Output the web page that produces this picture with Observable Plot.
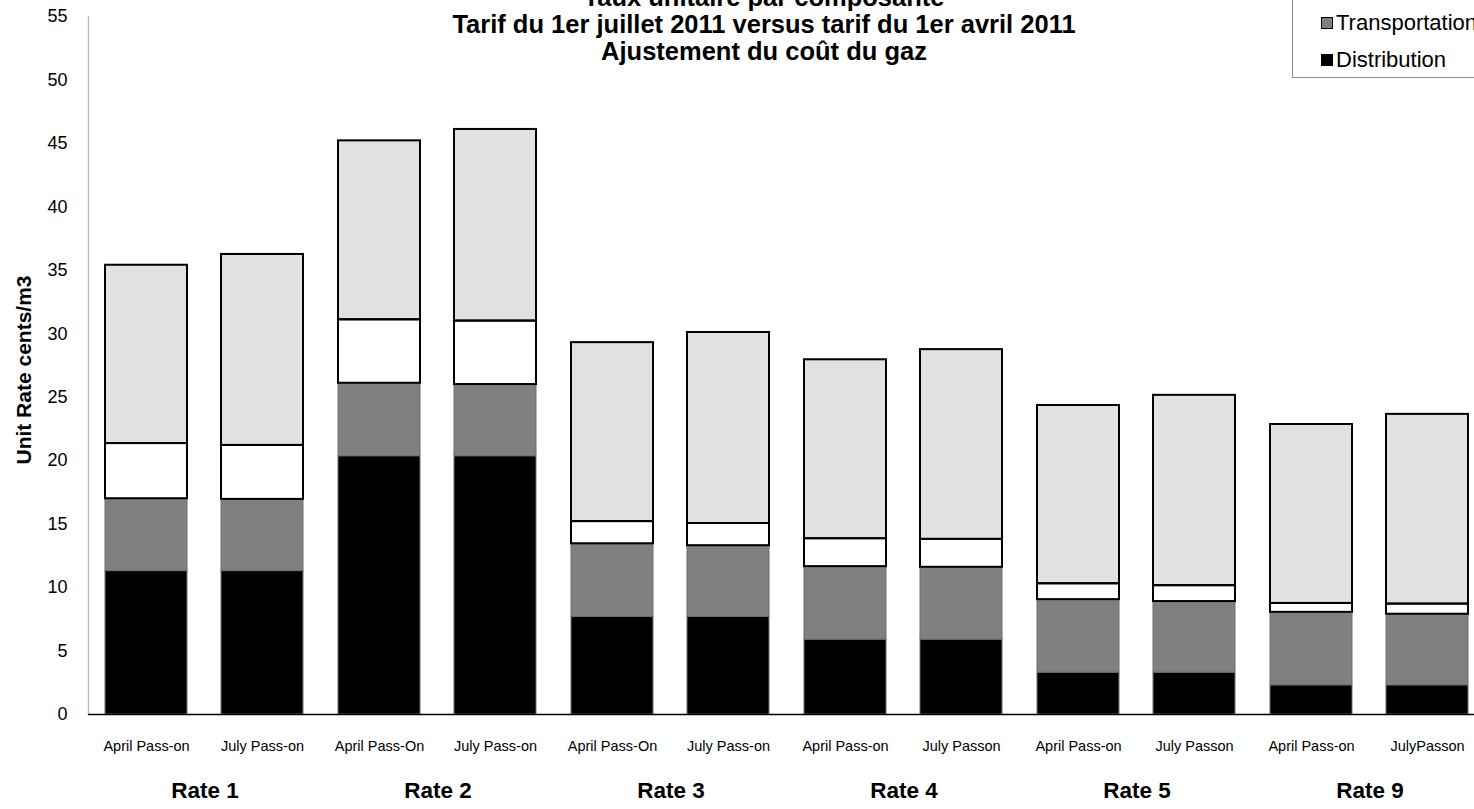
<!DOCTYPE html>
<html>
<head>
<meta charset="utf-8">
<script src="https://cdn.jsdelivr.net/npm/d3@7"></script>
<script src="https://cdn.jsdelivr.net/npm/@observablehq/plot@0.6"></script>
<style>
  html, body { margin: 0; padding: 0; background: #fff; overflow: hidden; }
  body { font-family: "Liberation Sans", Arial, sans-serif; color: #000; }
  #wrap { position: relative; width: 1474px; height: 809px; overflow: hidden; }
  #chart { position: absolute; left: 0; top: 0; width: 1500px; }
  #chart svg { max-width: none !important; }
  #title { position: absolute; left: 0; top: -16.5px; width: 1528px; text-align: center; font-weight: bold; font-size: 25.5px; line-height: 27px; }
  #ylabel { position: absolute; left: 24px; top: 370px; transform: translate(-50%, -50%) rotate(-90deg); white-space: nowrap; font-weight: bold; font-size: 21px; }
  #legend { position: absolute; left: 1292px; top: -40px; width: 260px; height: 116px; border: 1px solid #8c8c8c; background: #fff; }
  .item { position: absolute; left: 28px; font-size: 22px; line-height: 22px; white-space: nowrap; display: flex; align-items: center; }
  .sw { width: 10px; height: 10px; border: 1.5px solid #000; margin-right: 3px; }
</style>
</head>
<body>
<div id="wrap">
<div id="chart"></div>
<div id="title"></div>
<div id="ylabel"></div>
<div id="legend"></div>
</div>
<script>
// ---- data ----
const titleLines = ["Taux unitaire par composante", "Tarif du 1er juillet 2011 versus tarif du 1er avril 2011", "Ajustement du coût du gaz"];
const yLabel = "Unit Rate cents/m3";
const rates = ["Rate 1", "Rate 2", "Rate 3", "Rate 4", "Rate 5", "Rate 9"];
const periods = ["April", "July"];
const passOnLabels = ["April Pass-on", "July Pass-on", "April Pass-On", "July Pass-on", "April Pass-On", "July Pass-on",
                      "April Pass-on", "July Passon", "April Pass-on", "July Passon", "April Pass-on", "JulyPasson"];
const components = ["Distribution", "Transportation", "Storage", "Gas Supply"]; // bottom -> top
const componentColors = ["#000000", "#808080", "#ffffff", "#e1e1e1"];
const legendItems = ["Transportation", "Distribution"];
const distribution   = [11.3, 11.3, 20.35, 20.35, 7.7, 7.7, 5.9, 5.9, 3.3, 3.3, 2.3, 2.3];
const transportation = [5.7, 5.65, 5.75, 5.65, 5.75, 5.6, 5.75, 5.7, 5.75, 5.6, 5.75, 5.6];
const storage        = [4.35, 4.25, 5.0, 5.0, 1.75, 1.75, 2.2, 2.2, 1.25, 1.25, 0.7, 0.8];
const gasSupply      = [14.05, 15.05, 14.1, 15.1, 14.1, 15.05, 14.1, 14.95, 14.05, 15.0, 14.1, 14.95];
const yTicks = [0, 5, 10, 15, 20, 25, 30, 35, 40, 45, 50, 55];

// ---- tables ----
const series = [distribution, transportation, storage, gasSupply];
const bars = passOnLabels.map((label, i) => ({rate: rates[Math.floor(i / 2)], period: periods[i % 2], label}));
const rows = [];
bars.forEach((b, i) => components.forEach((c, k) => rows.push({...b, component: c, value: series[k][i]})));
const outlined = ["Storage", "Gas Supply"];

const chart = Plot.plot({
  width: 1500,
  height: 809,
  marginLeft: 88,
  marginRight: 14,
  marginTop: 16,
  marginBottom: 95,
  style: {fontFamily: "'Liberation Sans', Arial, sans-serif", fontSize: "14px", color: "#000", background: "transparent", maxWidth: "none"},
  fx: {domain: rates, padding: 0, axis: null},
  x: {domain: periods, paddingInner: 0.29, paddingOuter: 0.145, axis: null},
  y: {domain: [0, 55], axis: null},
  color: {domain: components, range: componentColors},
  marks: [
    Plot.frame({anchor: "left", facetAnchor: "left", stroke: "#bfbfbf", strokeWidth: 1.5}),
    Plot.axisY({ticks: yTicks, tickSize: 0, tickPadding: 21, fontSize: 18, label: null}),
    Plot.barY(rows, Plot.stackY({fx: "rate", x: "period", y: "value", z: "component", order: components,
      fill: "component", stroke: "#6e6e6e", strokeWidth: 1})),
    Plot.barY(rows, Plot.stackY({fx: "rate", x: "period", y: "value", z: "component", order: components,
      fill: "none", stroke: "#000", strokeWidth: 2,
      strokeOpacity: d => outlined.includes(d.component) ? 1 : 0})),
    Plot.ruleY([0], {stroke: "#000", strokeWidth: 1.5}),
    Plot.text(bars, {fx: "rate", x: "period", text: "label", frameAnchor: "bottom", dy: 36, fontSize: 14.5}),
    Plot.text(rates, {fx: d => d, text: d => d, frameAnchor: "bottom", dy: 83, fontSize: 22.5, fontWeight: "bold"})
  ]
});
document.getElementById("chart").appendChild(chart);

// title, y label, legend
document.getElementById("title").innerHTML = titleLines.map(t => `<div>${t}</div>`).join("");
document.getElementById("ylabel").textContent = yLabel;
const legend = document.getElementById("legend");
legendItems.forEach((name, i) => {
  const k = components.indexOf(name);
  const div = document.createElement("div");
  div.className = "item";
  div.style.top = (51 + i * 37) + "px";
  div.innerHTML = `<span class="sw" style="background:${componentColors[k]}"></span><span>${name}</span>`;
  legend.appendChild(div);
});
</script>
</body>
</html>
